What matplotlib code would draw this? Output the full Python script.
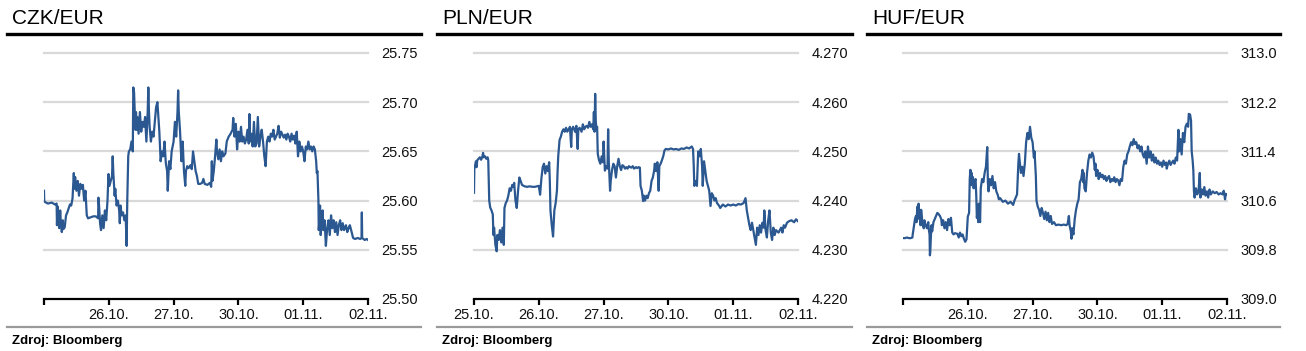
import matplotlib
matplotlib.use("Agg")
import matplotlib.pyplot as plt
from matplotlib.lines import Line2D

plt.rcParams["font.family"] = ["Liberation Sans", "DejaVu Sans"]

# ── Data (time in trading days since 25.10., value = rate) ────────────────────
TITLES = ["CZK/EUR", "PLN/EUR", "HUF/EUR"]
DATE_LABELS = ["25.10.", "26.10.", "27.10.", "30.10.", "01.11.", "02.11."]
SHOW_FIRST_DATE = [False, True, False]
Y_TICKS = [
    [25.50, 25.55, 25.60, 25.65, 25.70, 25.75],
    [4.220, 4.230, 4.240, 4.250, 4.260, 4.270],
    [309.0, 309.8, 310.6, 311.4, 312.2, 313.0],
]
Y_FMT = ["{:.2f}", "{:.3f}", "{:.1f}"]

czk_t = [0.000, 0.004, 0.06, 0.12, 0.17, 0.195, 0.20, 0.21, 0.22, 0.235, 0.25, 0.26, 0.275, 0.29, 0.30,
         0.32, 0.34, 0.36, 0.38, 0.40, 0.42, 0.44, 0.46, 0.47, 0.48, 0.50, 0.52, 0.54, 0.56, 0.58,
         0.60, 0.62, 0.64, 0.66, 0.68, 0.72, 0.76, 0.80, 0.835, 0.84, 0.85, 0.865, 0.88, 0.90, 0.92,
         0.94, 0.96, 0.98, 0.995, 1.01, 1.03, 1.05, 1.06, 1.07, 1.09, 1.10, 1.12, 1.14, 1.16, 1.17,
         1.18, 1.20, 1.22, 1.24, 1.26, 1.275, 1.285, 1.30, 1.31, 1.33, 1.35, 1.37, 1.378, 1.39, 1.40,
         1.41, 1.42, 1.43, 1.44, 1.46, 1.48, 1.50, 1.52, 1.54, 1.56, 1.58, 1.60, 1.61, 1.62, 1.63,
         1.65, 1.67, 1.69, 1.71, 1.73, 1.75, 1.76, 1.78, 1.80, 1.82, 1.84, 1.86, 1.88, 1.90, 1.91,
         1.93, 1.95, 1.97, 2.00, 2.02, 2.04, 2.06, 2.07, 2.08, 2.10, 2.12, 2.14, 2.16, 2.18, 2.19,
         2.21, 2.23, 2.26, 2.28, 2.30, 2.32, 2.34, 2.36, 2.38, 2.41, 2.44, 2.46, 2.48, 2.52, 2.56,
         2.58, 2.59, 2.60, 2.62, 2.64, 2.66, 2.67, 2.69, 2.71, 2.73, 2.75, 2.77, 2.80, 2.82, 2.85,
         2.88, 2.91, 2.92, 2.94, 2.96, 2.98, 3.00, 3.02, 3.04, 3.06, 3.08, 3.10, 3.12, 3.14, 3.16,
         3.17, 3.18, 3.20, 3.22, 3.24, 3.26, 3.28, 3.30, 3.32, 3.34, 3.36, 3.38, 3.40, 3.42, 3.44,
         3.46, 3.48, 3.50, 3.52, 3.54, 3.56, 3.58, 3.60, 3.62, 3.64, 3.66, 3.68, 3.70, 3.72, 3.74,
         3.76, 3.78, 3.80, 3.82, 3.84, 3.86, 3.88, 3.90, 3.92, 3.94, 3.96, 3.98, 4.00, 4.02, 4.04,
         4.06, 4.08, 4.10, 4.12, 4.14, 4.16, 4.18, 4.20, 4.21, 4.22, 4.235, 4.24, 4.25, 4.26, 4.27,
         4.28, 4.30, 4.31, 4.33, 4.35, 4.37, 4.39, 4.41, 4.43, 4.45, 4.47, 4.49, 4.51, 4.53, 4.55,
         4.57, 4.59, 4.61, 4.63, 4.66, 4.68, 4.70, 4.72, 4.74, 4.77, 4.80, 4.84, 4.88, 4.90, 4.905,
         4.91, 4.95, 4.98, 5.00]
czk_v = [25.610, 25.599, 25.597, 25.598, 25.596, 25.597, 25.575, 25.594, 25.582, 25.572, 25.590, 25.578,
         25.568, 25.580, 25.571, 25.573, 25.585, 25.588, 25.592, 25.596, 25.595, 25.602, 25.628, 25.612,
         25.624, 25.610, 25.620, 25.605, 25.617, 25.612, 25.616, 25.600, 25.610, 25.585, 25.582, 25.583,
         25.584, 25.584, 25.582, 25.603, 25.595, 25.577, 25.570, 25.585, 25.572, 25.590, 25.580, 25.600,
         25.627, 25.615, 25.620, 25.625, 25.645, 25.628, 25.605, 25.612, 25.595, 25.600, 25.590, 25.577,
         25.595, 25.585, 25.588, 25.580, 25.585, 25.554, 25.600, 25.645, 25.650, 25.652, 25.660, 25.650,
         25.715, 25.710, 25.690, 25.672, 25.690, 25.672, 25.685, 25.668, 25.690, 25.670, 25.680, 25.675,
         25.685, 25.660, 25.690, 25.715, 25.690, 25.675, 25.660, 25.670, 25.665, 25.680, 25.695, 25.700,
         25.690, 25.670, 25.640, 25.650, 25.645, 25.660, 25.638, 25.630, 25.610, 25.640, 25.632, 25.650,
         25.660, 25.680, 25.665, 25.690, 25.712, 25.690, 25.670, 25.640, 25.660, 25.630, 25.615, 25.630,
         25.635, 25.633, 25.636, 25.632, 25.650, 25.640, 25.630, 25.625, 25.617, 25.617, 25.618, 25.622,
         25.617, 25.616, 25.618, 25.614, 25.640, 25.620, 25.630, 25.645, 25.662, 25.650, 25.642, 25.652,
         25.640, 25.650, 25.645, 25.648, 25.660, 25.665, 25.668, 25.672, 25.684, 25.665, 25.678, 25.652,
         25.670, 25.660, 25.675, 25.660, 25.665, 25.658, 25.662, 25.672, 25.658, 25.688, 25.660, 25.668,
         25.655, 25.680, 25.655, 25.658, 25.685, 25.655, 25.665, 25.672, 25.660, 25.645, 25.635, 25.660,
         25.665, 25.660, 25.668, 25.665, 25.672, 25.662, 25.665, 25.668, 25.676, 25.664, 25.670, 25.667,
         25.664, 25.667, 25.662, 25.668, 25.665, 25.660, 25.668, 25.662, 25.666, 25.658, 25.670, 25.645,
         25.660, 25.650, 25.655, 25.650, 25.640, 25.655, 25.652, 25.660, 25.652, 25.655, 25.650, 25.655,
         25.652, 25.640, 25.628, 25.630, 25.600, 25.570, 25.580, 25.595, 25.565, 25.575, 25.590, 25.570,
         25.580, 25.554, 25.572, 25.580, 25.565, 25.585, 25.572, 25.580, 25.568, 25.578, 25.565, 25.575,
         25.580, 25.570, 25.577, 25.570, 25.575, 25.568, 25.572, 25.575, 25.570, 25.562, 25.561, 25.562,
         25.561, 25.562, 25.588, 25.562, 25.560, 25.561, 25.560]

pln_t = [0.000, 0.005, 0.015, 0.03, 0.04, 0.05, 0.07, 0.09, 0.11, 0.13, 0.14, 0.15, 0.17, 0.19, 0.21,
         0.22, 0.235, 0.25, 0.27, 0.29, 0.30, 0.31, 0.33, 0.35, 0.36, 0.38, 0.40, 0.42, 0.44, 0.46,
         0.47, 0.49, 0.51, 0.53, 0.55, 0.57, 0.59, 0.61, 0.62, 0.64, 0.66, 0.68, 0.70, 0.72, 0.74,
         0.78, 0.82, 0.86, 0.90, 0.94, 1.00, 1.02, 1.04, 1.06, 1.08, 1.10, 1.12, 1.14, 1.16, 1.17,
         1.18, 1.20, 1.22, 1.24, 1.26, 1.28, 1.29, 1.30, 1.32, 1.34, 1.36, 1.38, 1.40, 1.42, 1.44,
         1.46, 1.48, 1.50, 1.51, 1.53, 1.56, 1.58, 1.60, 1.61, 1.63, 1.66, 1.68, 1.70, 1.72, 1.74,
         1.76, 1.78, 1.80, 1.82, 1.84, 1.85, 1.86, 1.87, 1.88, 1.89, 1.90, 1.91, 1.93, 1.95, 1.97,
         1.99, 2.00, 2.02, 2.04, 2.06, 2.07, 2.08, 2.10, 2.11, 2.13, 2.15, 2.17, 2.19, 2.21, 2.23,
         2.25, 2.27, 2.29, 2.31, 2.33, 2.35, 2.37, 2.39, 2.41, 2.43, 2.45, 2.47, 2.50, 2.52, 2.54,
         2.56, 2.57, 2.59, 2.60, 2.61, 2.62, 2.64, 2.66, 2.68, 2.70, 2.72, 2.74, 2.76, 2.78, 2.79,
         2.81, 2.83, 2.85, 2.86, 2.88, 2.90, 2.92, 2.94, 2.96, 3.00, 3.04, 3.08, 3.12, 3.16, 3.20,
         3.24, 3.28, 3.32, 3.36, 3.38, 3.39, 3.40, 3.42, 3.44, 3.46, 3.48, 3.50, 3.52, 3.53, 3.55,
         3.57, 3.59, 3.61, 3.63, 3.65, 3.67, 3.69, 3.71, 3.73, 3.75, 3.78, 3.80, 3.84, 3.88, 3.92,
         3.96, 4.00, 4.04, 4.08, 4.12, 4.16, 4.19, 4.21, 4.23, 4.25, 4.27, 4.29, 4.31, 4.33, 4.35,
         4.37, 4.39, 4.41, 4.43, 4.45, 4.47, 4.48, 4.50, 4.52, 4.54, 4.56, 4.58, 4.60, 4.62, 4.64,
         4.66, 4.70, 4.74, 4.76, 4.78, 4.80, 4.83, 4.86, 4.90, 4.94, 4.97, 5.00]
pln_v = [4.2416, 4.2464, 4.2470, 4.2480, 4.2468, 4.2482, 4.2485, 4.2488, 4.2483, 4.2490, 4.2497, 4.2488,
         4.2490, 4.2485, 4.2488, 4.2482, 4.2400, 4.2386, 4.2380, 4.2372, 4.2330, 4.2345, 4.2310, 4.2297,
         4.2330, 4.2320, 4.2340, 4.2315, 4.2345, 4.2310, 4.2385, 4.2395, 4.2400, 4.2410, 4.2425, 4.2420,
         4.2432, 4.2428, 4.2436, 4.2400, 4.2385, 4.2420, 4.2447, 4.2440, 4.2432, 4.2429, 4.2428, 4.2429,
         4.2428, 4.2428, 4.2430, 4.2412, 4.2445, 4.2468, 4.2475, 4.2455, 4.2470, 4.2460, 4.2478, 4.2440,
         4.2380, 4.2350, 4.2327, 4.2380, 4.2395, 4.2420, 4.2460, 4.2490, 4.2523, 4.2530, 4.2540, 4.2545,
         4.2540, 4.2548, 4.2540, 4.2545, 4.2550, 4.2509, 4.2545, 4.2550, 4.2540, 4.2552, 4.2505, 4.2545,
         4.2548, 4.2540, 4.2555, 4.2545, 4.2550, 4.2552, 4.2548, 4.2560, 4.2550, 4.2555, 4.2545, 4.2580,
         4.2540, 4.2617, 4.2560, 4.2545, 4.2550, 4.2495, 4.2482, 4.2475, 4.2490, 4.2478, 4.2520, 4.2461,
         4.2470, 4.2465, 4.2545, 4.2480, 4.2420, 4.2440, 4.2462, 4.2475, 4.2470, 4.2447, 4.2470, 4.2485,
         4.2470, 4.2462, 4.2472, 4.2470, 4.2465, 4.2468, 4.2465, 4.2470, 4.2468, 4.2467, 4.2470, 4.2465,
         4.2468, 4.2466, 4.2468, 4.2467, 4.2430, 4.2420, 4.2410, 4.2399, 4.2410, 4.2400, 4.2410, 4.2405,
         4.2415, 4.2420, 4.2440, 4.2447, 4.2461, 4.2475, 4.2460, 4.2478, 4.2420, 4.2470, 4.2475, 4.2482,
         4.2490, 4.2502, 4.2505, 4.2504, 4.2506, 4.2504, 4.2505, 4.2503, 4.2506, 4.2505, 4.2508, 4.2506,
         4.2510, 4.2505, 4.2475, 4.2430, 4.2440, 4.2430, 4.2500, 4.2490, 4.2505, 4.2470, 4.2430, 4.2480,
         4.2460, 4.2440, 4.2430, 4.2420, 4.2389, 4.2415, 4.2410, 4.2400, 4.2405, 4.2395, 4.2390, 4.2385,
         4.2392, 4.2388, 4.2392, 4.2390, 4.2392, 4.2390, 4.2393, 4.2392, 4.2395, 4.2405, 4.2380, 4.2365,
         4.2350, 4.2340, 4.2355, 4.2340, 4.2325, 4.2310, 4.2345, 4.2330, 4.2350, 4.2335, 4.2355, 4.2345,
         4.2380, 4.2340, 4.2325, 4.2360, 4.2380, 4.2335, 4.2320, 4.2345, 4.2330, 4.2340, 4.2335, 4.2345,
         4.2335, 4.2350, 4.2345, 4.2355, 4.2358, 4.2360, 4.2356, 4.2362, 4.2358]

huf_t = [0.000, 0.03, 0.06, 0.09, 0.12, 0.145, 0.15, 0.17, 0.185, 0.20, 0.21, 0.22, 0.235, 0.24, 0.25,
         0.26, 0.27, 0.28, 0.29, 0.30, 0.31, 0.32, 0.33, 0.35, 0.37, 0.39, 0.40, 0.41, 0.415, 0.42,
         0.43, 0.44, 0.45, 0.47, 0.49, 0.51, 0.53, 0.55, 0.57, 0.59, 0.60, 0.62, 0.64, 0.66, 0.68,
         0.70, 0.72, 0.74, 0.76, 0.78, 0.80, 0.84, 0.86, 0.88, 0.90, 0.92, 0.94, 0.96, 0.98, 1.00,
         1.02, 1.03, 1.04, 1.05, 1.06, 1.07, 1.08, 1.09, 1.10, 1.12, 1.13, 1.14, 1.15, 1.16, 1.17,
         1.18, 1.19, 1.20, 1.22, 1.24, 1.26, 1.28, 1.30, 1.31, 1.32, 1.34, 1.36, 1.38, 1.40, 1.42,
         1.44, 1.46, 1.48, 1.50, 1.54, 1.58, 1.62, 1.66, 1.70, 1.72, 1.74, 1.76, 1.78, 1.79, 1.80,
         1.82, 1.84, 1.86, 1.88, 1.90, 1.92, 1.94, 1.96, 1.98, 2.00, 2.02, 2.03, 2.05, 2.06, 2.08,
         2.10, 2.12, 2.14, 2.16, 2.18, 2.20, 2.22, 2.24, 2.26, 2.28, 2.30, 2.33, 2.36, 2.40, 2.44,
         2.48, 2.52, 2.54, 2.56, 2.57, 2.59, 2.60, 2.61, 2.63, 2.65, 2.67, 2.69, 2.71, 2.73, 2.75,
         2.77, 2.78, 2.79, 2.80, 2.82, 2.84, 2.86, 2.88, 2.90, 2.92, 2.94, 2.96, 2.97, 2.98, 3.00,
         3.02, 3.04, 3.06, 3.08, 3.10, 3.12, 3.14, 3.16, 3.18, 3.20, 3.22, 3.24, 3.26, 3.28, 3.30,
         3.32, 3.34, 3.36, 3.38, 3.40, 3.42, 3.44, 3.46, 3.48, 3.50, 3.52, 3.54, 3.56, 3.58, 3.60,
         3.62, 3.64, 3.66, 3.68, 3.70, 3.72, 3.74, 3.76, 3.78, 3.80, 3.82, 3.84, 3.86, 3.88, 3.90,
         3.92, 3.94, 3.96, 3.98, 4.00, 4.02, 4.04, 4.06, 4.07, 4.09, 4.11, 4.13, 4.15, 4.17, 4.19,
         4.21, 4.23, 4.25, 4.26, 4.28, 4.30, 4.32, 4.34, 4.36, 4.38, 4.40, 4.41, 4.43, 4.445, 4.455,
         4.47, 4.48, 4.49, 4.50, 4.52, 4.54, 4.56, 4.58, 4.59, 4.61, 4.63, 4.65, 4.67, 4.69, 4.71,
         4.73, 4.75, 4.78, 4.81, 4.84, 4.87, 4.90, 4.93, 4.95, 4.97, 4.98, 5.00]
huf_v = [309.99, 309.99, 310.00, 309.99, 309.99, 310.00, 310.05, 310.20, 310.30, 310.35, 310.25, 310.50,
         310.40, 310.55, 310.30, 310.45, 310.20, 310.45, 310.35, 310.20, 310.22, 310.15, 310.28, 310.20,
         310.15, 310.25, 310.12, 310.05, 309.71, 309.75, 310.00, 310.20, 310.10, 310.25, 310.30, 310.35,
         310.40, 310.38, 310.35, 310.30, 310.20, 310.28, 310.15, 310.25, 310.12, 310.30, 310.20, 310.32,
         310.08, 310.05, 310.07, 310.06, 310.00, 310.08, 310.02, 310.05, 309.98, 309.93, 309.97, 310.34,
         310.40, 310.95, 311.10, 310.85, 311.05, 310.92, 310.98, 310.80, 310.90, 310.95, 310.70, 310.32,
         310.45, 310.25, 310.55, 310.35, 310.25, 310.80, 310.95, 310.90, 311.05, 311.15, 311.47, 310.90,
         310.75, 310.95, 310.85, 311.00, 310.80, 310.90, 310.75, 310.70, 310.62, 310.64, 310.58, 310.60,
         310.55, 310.58, 310.53, 310.60, 310.65, 310.70, 311.20, 311.36, 311.25, 311.05, 311.15, 311.00,
         311.20, 311.55, 311.70, 311.60, 311.80, 311.62, 311.55, 311.30, 311.40, 311.00, 310.60, 310.50,
         310.45, 310.35, 310.48, 310.40, 310.30, 310.42, 310.28, 310.40, 310.25, 310.35, 310.22, 310.25,
         310.20, 310.21, 310.20, 310.21, 310.20, 310.22, 310.35, 310.20, 310.10, 309.98, 310.15, 310.05,
         310.30, 310.45, 310.55, 310.62, 310.90, 310.95, 311.10, 310.90, 311.05, 310.80, 310.75, 311.05,
         311.25, 311.35, 311.30, 311.38, 311.32, 311.10, 311.20, 311.00, 311.10, 310.95, 311.05, 310.98,
         311.02, 310.95, 311.00, 310.92, 310.97, 311.00, 310.90, 310.95, 310.92, 310.98, 310.90, 310.95,
         310.93, 310.85, 310.95, 310.92, 311.15, 311.25, 311.20, 311.35, 311.40, 311.48, 311.55, 311.50,
         311.60, 311.52, 311.55, 311.45, 311.50, 311.40, 311.48, 311.35, 311.30, 311.40, 311.20, 311.48,
         311.30, 311.40, 311.25, 311.35, 311.22, 311.30, 311.20, 311.25, 311.18, 311.22, 311.15, 311.25,
         311.18, 311.22, 311.12, 311.20, 311.25, 311.18, 311.22, 311.25, 311.20, 311.30, 311.25, 311.75,
         311.40, 311.60, 311.35, 311.70, 311.55, 311.80, 311.85, 311.80, 312.01, 312.00, 311.90, 311.40,
         311.25, 311.10, 310.75, 310.65, 310.80, 310.70, 310.75, 311.05, 310.65, 310.78, 310.70, 310.82,
         310.68, 310.75, 310.65, 310.78, 310.70, 310.75, 310.72, 310.74, 310.70, 310.72, 310.70, 310.76,
         310.62, 310.71, 310.70]

SERIES_T = [czk_t, pln_t, huf_t]
SERIES_V = [czk_v, pln_v, huf_v]

# ── Style ──────────────────────────────────────────────────────────────────────
LINE_CLR = "#2B5891"
GRID_CLR = "#D9D9D9"
W, H = 1306, 351

# panel geometry in pixels: (plot left, frame left, frame right)
PANELS = [(44, 7, 421), (474, 437, 852), (903, 867, 1280)]
PLOT_W, PLOT_TOP, PLOT_BOT = 324, 53, 299

fig = plt.figure(figsize=(W / 100, H / 100), dpi=100)
fig.patch.set_facecolor("white")

for i, (px, fl, fr) in enumerate(PANELS):
    ax = fig.add_axes([px / W, 1 - PLOT_BOT / H, PLOT_W / W, (PLOT_BOT - PLOT_TOP) / H])
    yt = Y_TICKS[i]
    ax.set_ylim(yt[0], yt[-1])
    ax.set_xlim(0, 5)
    for y in yt[1:]:
        ax.axhline(y, color=GRID_CLR, lw=1.6, zorder=1, clip_on=False)
    ax.plot(SERIES_T[i], SERIES_V[i], color=LINE_CLR, lw=1.6, zorder=3)

    for s in ["top", "left", "right"]:
        ax.spines[s].set_visible(False)
    ax.spines["bottom"].set_linewidth(1.6)
    ax.spines["bottom"].set_zorder(4)

    ax.yaxis.tick_right()
    ax.set_yticks(yt)
    ax.set_yticklabels([Y_FMT[i].format(v) for v in yt])
    ax.tick_params(axis="y", length=0, pad=9.5, labelsize=10.5, labelcolor="#111111")
    for lab in ax.get_yticklabels():
        lab.set_horizontalalignment("left")

    labels = list(DATE_LABELS)
    if not SHOW_FIRST_DATE[i]:
        labels[0] = ""
    ax.set_xticks(range(len(DATE_LABELS)))
    ax.set_xticklabels(labels)
    ax.tick_params(axis="x", length=4, width=1.6, direction="out", pad=2.5,
                   labelsize=10.5, labelcolor="#111111")

    # title, rules and source
    fig.text((fl + 5) / W, 1 - 24 / H, TITLES[i], fontsize=15, va="baseline", ha="left", color="black")
    fig.add_artist(Line2D([fl / W, fr / W], [1 - 34 / H] * 2, color="black", lw=2.4))
    fig.add_artist(Line2D([fl / W, fr / W], [1 - 326.5 / H] * 2, color="#9A9A9A", lw=1.6))
    fig.text((fl + 5) / W, 1 - 344 / H, "Zdroj: Bloomberg", fontsize=9.5, fontweight="bold",
             va="baseline", ha="left", color="black")

fig.savefig("out.png", dpi=100, facecolor="white")
